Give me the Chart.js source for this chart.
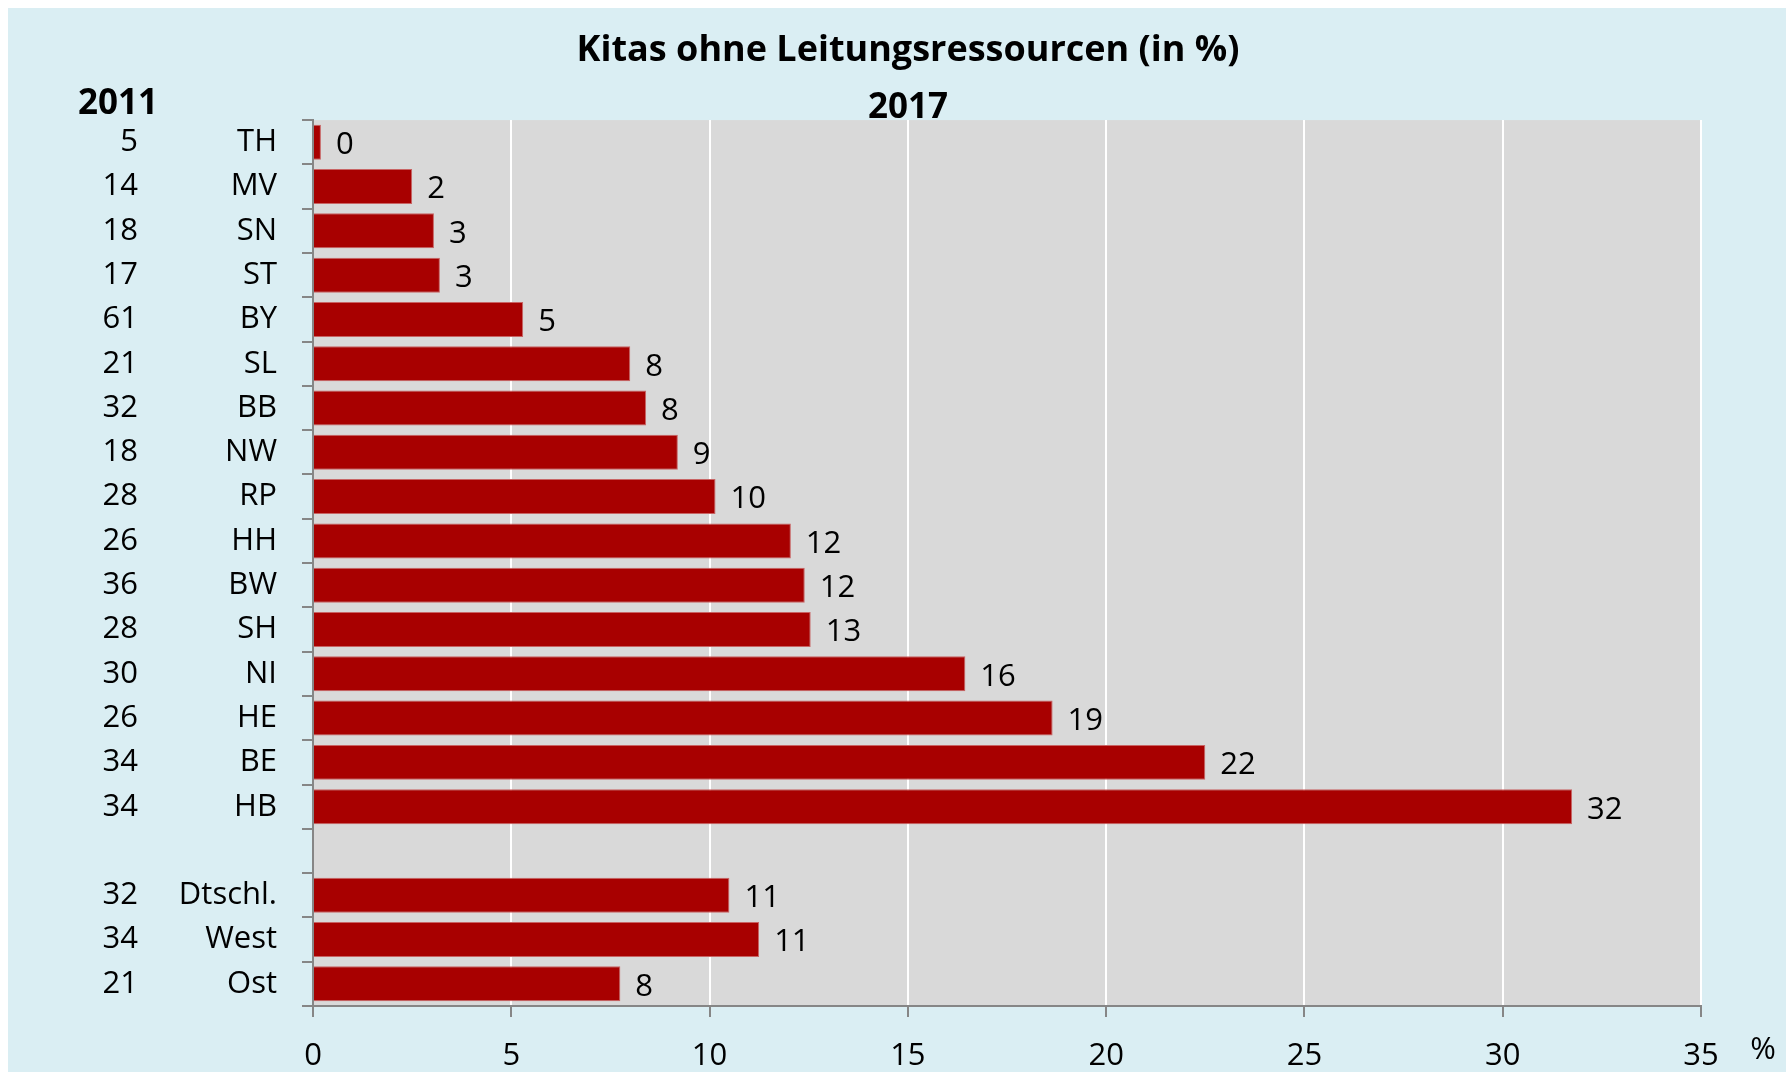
<!DOCTYPE html>
<html>
<head>
<meta charset="utf-8">
<script src="https://cdn.jsdelivr.net/npm/chart.js@4/dist/chart.umd.min.js"></script>
<style>
    html, body { margin: 0; padding: 0; background: #fff; }
    #box { position: absolute; left: 8px; top: 8px; width: 1778px; height: 1064px; background: #DAEEF3; }
    #wrap { position: absolute; left: 22px; top: 0; width: 1756px; height: 1064px; }
</style>
</head>
<body>
<div id="box"><div id="wrap"><canvas id="kitaChart"></canvas></div></div>
<script>
const categories = ['TH', 'MV', 'SN', 'ST', 'BY', 'SL', 'BB', 'NW', 'RP', 'HH', 'BW', 'SH', 'NI', 'HE', 'BE', 'HB', '', 'Dtschl.', 'West', 'Ost'];
const values2017 = [0.2, 2.5, 3.05, 3.2, 5.3, 8.0, 8.4, 9.2, 10.15, 12.05, 12.4, 12.55, 16.45, 18.65, 22.5, 31.75, null, 10.5, 11.25, 7.75];
const labels2017 = ['0', '2', '3', '3', '5', '8', '8', '9', '10', '12', '12', '13', '16', '19', '22', '32', '', '11', '11', '8'];
const values2011 = ['5', '14', '18', '17', '61', '21', '32', '18', '28', '26', '36', '28', '30', '26', '34', '34', '', '32', '34', '21'];
const xMin = 0, xMax = 35, xStep = 5;

Chart.defaults.font.family = "'Open Sans', sans-serif";
Chart.defaults.color = '#000';

// grey plot area behind the grid
const plotBg = {
    id: 'plotBg',
    beforeDraw(chart) {
        const { ctx, chartArea: a } = chart;
        ctx.save();
        ctx.fillStyle = '#D9D9D9';
        ctx.fillRect(a.left, a.top, a.right - a.left, a.bottom - a.top);
        ctx.restore();
    }
};

// value next to each bar
const barLabels = {
    id: 'barLabels',
    afterDatasetsDraw(chart) {
        const { ctx } = chart;
        const meta = chart.getDatasetMeta(0);
        ctx.save();
        ctx.font = '31px "Open Sans"';
        ctx.fillStyle = '#000';
        ctx.textAlign = 'left';
        ctx.textBaseline = 'middle';
        meta.data.forEach((bar, i) => {
            if (values2017[i] === null) return;
            ctx.fillText(labels2017[i], bar.x + 15, bar.y + 3);
        });
        ctx.restore();
    }
};

// "2011" column header and "%" unit
const extraText = {
    id: 'extraText',
    afterDraw(chart) {
        const { ctx, scales } = chart;
        ctx.save();
        ctx.fillStyle = '#000';
        ctx.textBaseline = 'middle';
        ctx.textAlign = 'center';
        ctx.font = 'bold 35px "Open Sans"';
        ctx.fillText('2011', scales.y2.right - 25, chart.chartArea.top - 16);
        ctx.font = '31px "Open Sans"';
        ctx.fillText('%', scales.x.getPixelForValue(xMax) + 62, scales.x.bottom - 22);
        ctx.restore();
    }
};

const config = {
    type: 'bar',
    data: {
        labels: categories,
        datasets: [{
            label: '2017',
            data: values2017,
            backgroundColor: '#A80000',
            borderColor: '#C86464',
            borderWidth: 1,
            categoryPercentage: 1,
            barPercentage: 0.79
        }]
    },
    options: {
        indexAxis: 'y',
        responsive: true,
        maintainAspectRatio: false,
        animation: false,
        layout: { padding: 0 },
        plugins: {
            legend: { display: false },
            tooltip: { enabled: false },
            title: {
                display: true,
                text: 'Kitas ohne Leitungsressourcen (in %)',
                color: '#000',
                font: { size: 36, weight: 'bold' },
                padding: { top: 21.4, bottom: 5 }
            },
            subtitle: {
                display: true,
                text: '2017',
                color: '#000',
                font: { size: 35, weight: 'bold', lineHeight: 0.7 },
                padding: { top: 18, bottom: 0 }
            }
        },
        scales: {
            x: {
                min: xMin,
                max: xMax,
                ticks: { stepSize: xStep, font: { size: 31 }, padding: 21 },
                grid: {
                    color: (c) => (c.tick && c.tick.value === xMin) ? 'rgba(0,0,0,0)' : '#fff',
                    lineWidth: 2,
                    tickColor: '#868686',
                    tickLength: 11
                },
                border: { color: '#868686', width: 2 },
                afterFit(scale) { scale.height = 66; }
            },
            y: {
                type: 'category',
                position: 'left',
                weight: 0,
                offset: true,
                grid: { offset: true, drawOnChartArea: false, color: '#868686', lineWidth: 2, tickLength: 11 },
                border: { color: '#868686', width: 2 },
                ticks: { font: { size: 31 }, padding: 25, autoSkip: false },
                afterFit(scale) { scale.width = 170; }
            },
            y2: {
                type: 'category',
                position: 'left',
                weight: 1,
                labels: values2011,
                offset: true,
                grid: { display: false, drawTicks: false },
                border: { display: false },
                ticks: { font: { size: 31 }, padding: 5, autoSkip: false },
                afterFit(scale) { scale.width = 113; }
            },
            // empty right-hand box so the title stays centred over the whole panel
            yPad: {
                type: 'category',
                position: 'right',
                labels: [''],
                grid: { display: false, drawTicks: false },
                border: { display: false },
                ticks: { display: false },
                afterFit(scale) { scale.width = 85; }
            }
        }
    },
    plugins: [plotBg, barLabels, extraText]
};

window.kitaChart = new Chart(document.getElementById('kitaChart'), config);
</script>
</body>
</html>
